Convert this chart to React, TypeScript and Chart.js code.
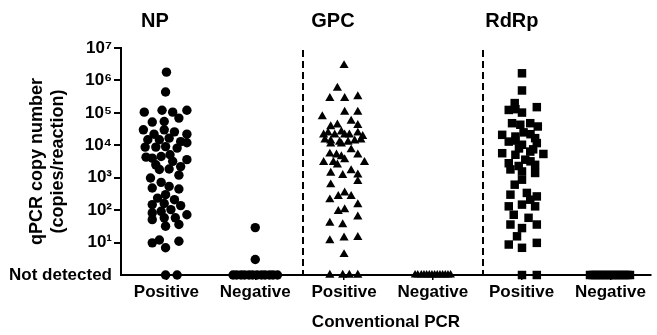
import React, { useEffect, useRef } from 'react';
import { Chart, registerables } from 'chart.js';

Chart.register(...registerables);

// ---- data ----
const categories = ['Positive', 'Negative', 'Positive', 'Negative', 'Positive', 'Negative'];
const groupTitles = ['NP', 'GPC', 'RdRp'];
const groupTitleCats = [-0.13, 1.875, 3.89];
const separatorCats = [1.54, 3.56];
const yTickValues = [1, 10, 100, 1e3, 1e4, 1e5, 1e6, 1e7];
const yTickLabels = ['Not detected', '10¹', '10²', '10³', '10⁴', '10⁵', '10⁶', '10⁷'];
const NOT_DETECTED = 1;

// NP – Positive (circles)
const npPosValues = [
  1.8e6, 4.4e5, 1.05e5, 1.2e5, 1.05e5, 1.2e5, 5.2e4, 5.4e4, 6.9e4, 3.0e4,
  2.2e4, 3.0e4, 2.6e4, 2.2e4, 1.48e4, 1.48e4, 1.66e4, 1.3e4, 1.2e4, 8.8e3,
  8.8e3, 9.1e3, 8.2e3, 4.3e3, 4.0e3, 4.5e3, 5.1e3, 3.6e3, 2.5e3, 3.2e3,
  2.2e3, 1.8e3, 1.85e3, 980, 1.2e3, 720, 480, 540, 450, 235,
  300, 210, 148, 160, 138, 82, 92, 104, 72, 51,
  58, 58, 32, 36, 9.8, 12, 6.9, 11, NOT_DETECTED, NOT_DETECTED,
];
const npPosJitter = [
  0.0, -0.01, -0.25, -0.05, 0.07, 0.23, -0.16, -0.025, 0.14, -0.26,
  -0.14, -0.025, 0.09, 0.23, -0.21, -0.08, 0.03, 0.16, 0.23, -0.24,
  -0.12, -0.01, 0.12, -0.23, -0.16, -0.06, 0.04, 0.23, -0.12, 0.07,
  0.16, -0.08, 0.03, -0.18, 0.14, -0.06, -0.16, 0.03, 0.14, -0.1,
  -0.01, 0.09, -0.16, -0.025, 0.16, -0.16, -0.06, 0.05, 0.23, -0.16,
  -0.025, 0.1, -0.01, 0.14, -0.16, -0.08, -0.01, 0.14, -0.01, 0.12,
];

// NP – Negative (circles)
const npNegValues = [
  29, 3, NOT_DETECTED, NOT_DETECTED, NOT_DETECTED, NOT_DETECTED, NOT_DETECTED, NOT_DETECTED,
  NOT_DETECTED, NOT_DETECTED, NOT_DETECTED, NOT_DETECTED, NOT_DETECTED, NOT_DETECTED,
];
const npNegJitter = [
  0.0, 0.0, -0.25, -0.21, -0.16, -0.12, -0.07, -0.03, 0.02, 0.07, 0.11, 0.16, 0.2, 0.25,
];

// GPC – Positive (triangles)
const gpcPosValues = [
  2.9e6, 5.8e5, 2.8e5, 2.8e5, 3.2e5, 1.05e5, 1.05e5, 7.7e4, 5.6e4, 3.8e4,
  4.3e4, 4.1e4, 2.1e4, 2.4e4, 2.1e4, 2.6e4, 2.1e4, 2.1e4, 2.4e4, 1.9e4,
  1.48e4, 1.38e4, 1.26e4, 1.26e4, 1.38e4, 1.48e4, 1.1e4, 1.1e4, 7.3e3, 5.4e3,
  5.1e3, 4.5e3, 5.1e3, 3.0e3, 3.0e3, 2.5e3, 3.6e3, 3.0e3, 1.4e3, 1.18e3,
  1.65e3, 1.23e3, 770, 610, 210, 265, 340, 265, 148, 92,
  104, 62, 40, 36, 11.5, 14, 14.5, 4.3, NOT_DETECTED, NOT_DETECTED,
  NOT_DETECTED, NOT_DETECTED,
];
const gpcPosJitter = [
  0.0, -0.075, -0.16, 0.007, 0.155, 0.007, 0.155, -0.245, 0.08, -0.15,
  -0.075, 0.155, -0.23, -0.18, -0.105, -0.03, 0.007, 0.06, 0.155, 0.21,
  -0.215, -0.15, -0.05, 0.045, 0.12, 0.19, -0.15, -0.03, 0.08, -0.16,
  -0.085, -0.03, 0.155, -0.23, -0.12, -0.075, 0.007, 0.23, -0.15, -0.015,
  0.08, 0.155, 0.155, -0.15, -0.16, -0.065, 0.007, 0.08, 0.155, -0.065,
  0.007, 0.155, -0.16, -0.015, -0.16, 0.0, 0.155, 0.0, -0.16, -0.015,
  0.06, 0.155,
];

// GPC – Negative (triangles)
const gpcNegValues = [
  NOT_DETECTED, NOT_DETECTED, NOT_DETECTED, NOT_DETECTED, NOT_DETECTED, NOT_DETECTED, NOT_DETECTED,
  NOT_DETECTED, NOT_DETECTED, NOT_DETECTED, NOT_DETECTED, NOT_DETECTED, NOT_DETECTED, NOT_DETECTED,
];
const gpcNegJitter = [
  -0.2, -0.17, -0.13, -0.1, -0.07, -0.04, -0.01, 0.02, 0.05, 0.08, 0.11, 0.14, 0.17, 0.2,
];

// RdRp – Positive (squares)
const rdrpPosValues = [
  1.66e6, 4.9e5, 2.0e5, 1.23e5, 1.02e5, 1.5e5, 4.8e4, 4.3e4, 4.8e4, 3.8e4,
  2.1e4, 1.86e4, 2.5e4, 1.66e4, 1.3e4, 1.04e4, 1.17e4, 5.7e3, 5.1e3, 6.4e3,
  5.4e3, 2.8e3, 2.3e3, 3.6e3, 2.5e3, 1.8e3, 1.4e3, 1.56e3, 610, 870,
  300, 340, 265, 210, 131, 148, 131, 72, 58, 36,
  28, 36, 15.6, 8.7, 6.9, 9.8, NOT_DETECTED, NOT_DETECTED,
  1.4e4, 2.2e4, 8.0e3, 3.2e3, 1.3e5, 7.5e3,
];
const rdrpPosJitter = [
  0.004, 0.004, -0.078, -0.145, 0.004, 0.171, -0.108, -0.015, 0.097, 0.182,
  -0.219, -0.07, 0.022, 0.152, -0.145, 0.004, 0.171, -0.219, -0.07, 0.097,
  0.245, -0.145, -0.033, 0.041, 0.152, -0.126, 0.152, 0.004, -0.078, 0.004,
  -0.126, 0.059, 0.171, 0.097, -0.145, 0.004, 0.152, -0.089, 0.078, -0.126,
  0.004, 0.171, -0.052, -0.145, 0.004, 0.171, 0.004, 0.171,
  -0.07, 0.1, -0.03, 0.1, -0.07, 0.13,
];

// RdRp – Negative (squares)
const rdrpNegValues = [
  NOT_DETECTED, NOT_DETECTED, NOT_DETECTED, NOT_DETECTED, NOT_DETECTED, NOT_DETECTED, NOT_DETECTED, NOT_DETECTED,
  NOT_DETECTED, NOT_DETECTED, NOT_DETECTED, NOT_DETECTED, NOT_DETECTED, NOT_DETECTED, NOT_DETECTED, NOT_DETECTED,
];
const rdrpNegJitter = [
  -0.23, -0.2, -0.17, -0.14, -0.11, -0.08, -0.05, -0.02, 0.01, 0.04, 0.07, 0.1, 0.13, 0.16, 0.19, 0.22,
];

const FONT = "'Liberation Sans', Arial, Helvetica, sans-serif";

function toPoints(cat: number, values: number[], jitter: number[]) {
  return values.map((v, i) => ({ x: cat + jitter[i], y: v }));
}

const decorPlugin = {
  id: 'decor',
  afterDatasetsDraw(chart: any) {
    const { ctx, scales } = chart;
    const xs = scales.x;
    const ys = scales.y;
    ctx.save();
    ctx.strokeStyle = '#000';
    ctx.lineWidth = 2;
    ctx.setLineDash([7, 4]);
    separatorCats.forEach((c) => {
      const px = Math.round(xs.getPixelForValue(c));
      ctx.beginPath();
      ctx.moveTo(px, ys.getPixelForValue(1e7) + 2);
      ctx.lineTo(px, ys.getPixelForValue(1));
      ctx.stroke();
    });
    ctx.setLineDash([]);
    ctx.fillStyle = '#000';
    ctx.font = `bold 20px ${FONT}`;
    ctx.textAlign = 'center';
    ctx.textBaseline = 'middle';
    groupTitles.forEach((t, i) => {
      ctx.fillText(t, xs.getPixelForValue(groupTitleCats[i]), 21);
    });
    ctx.restore();
  },
};

export default function App() {
  const ref = useRef<HTMLCanvasElement>(null);
  useEffect(() => {
    document.body.style.margin = '0';
    const base = { borderWidth: 0, backgroundColor: '#000', borderColor: '#000', clip: false as any };
    const chart = new Chart(ref.current as HTMLCanvasElement, {
      type: 'scatter',
      data: {
        datasets: [
          { ...base, label: 'NP Positive', data: toPoints(0, npPosValues, npPosJitter), pointStyle: 'circle', pointRadius: 4.7 },
          { ...base, label: 'NP Negative', data: toPoints(1, npNegValues, npNegJitter), pointStyle: 'circle', pointRadius: 4.7 },
          { ...base, label: 'GPC Positive', data: toPoints(2, gpcPosValues, gpcPosJitter), pointStyle: 'triangle', pointRadius: 5.3 },
          { ...base, label: 'GPC Negative', data: toPoints(3, gpcNegValues, gpcNegJitter), pointStyle: 'triangle', pointRadius: 5 },
          { ...base, label: 'RdRp Positive', data: toPoints(4, rdrpPosValues, rdrpPosJitter), pointStyle: 'rect', pointRadius: 6 },
          { ...base, label: 'RdRp Negative', data: toPoints(5, rdrpNegValues, rdrpNegJitter), pointStyle: 'rect', pointRadius: 6 },
        ] as any,
      },
      options: {
        animation: false,
        responsive: false,
        layout: { padding: { top: 48, right: 0, bottom: 0, left: 0 } },
        plugins: { legend: { display: false }, tooltip: { enabled: false } },
        scales: {
          x: {
            type: 'linear',
            min: -0.512,
            max: 5.457,
            afterBuildTicks: (s: any) => {
              s.ticks = categories.map((_, i) => ({ value: i }));
            },
            afterFit: (s: any) => {
              s.height = 60;
            },
            ticks: {
              color: '#000',
              font: { family: FONT, size: 17, weight: 'bold' },
              padding: 2,
              maxRotation: 0,
              autoSkip: false,
              callback: (v: any) => categories[Number(v)] ?? '',
            },
            grid: { drawOnChartArea: false, drawTicks: true, tickLength: 5, color: '#000', lineWidth: 1.5 },
            border: { display: true, color: '#000', width: 2 },
            title: {
              display: true,
              text: 'Conventional PCR',
              color: '#000',
              font: { family: FONT, size: 17, weight: 'bold' },
              padding: { top: 0, bottom: 2 },
            },
          },
          y: {
            type: 'logarithmic',
            min: 1,
            max: 1e7,
            afterBuildTicks: (s: any) => {
              s.ticks = yTickValues.map((v) => ({ value: v, major: true }));
            },
            afterFit: (s: any) => {
              s.width = 121;
            },
            ticks: {
              color: '#000',
              font: { family: FONT, size: 17, weight: 'bold' },
              padding: 2,
              autoSkip: false,
              callback: (v: any) => {
                const idx = yTickValues.indexOf(Number(v));
                return idx >= 0 ? yTickLabels[idx] : '';
              },
            },
            grid: {
              drawOnChartArea: false,
              drawTicks: true,
              tickLength: 7,
              lineWidth: 2,
              color: (c: any) => (c.tick && c.tick.value === 1 ? 'rgba(0,0,0,0)' : '#000'),
            },
            border: { display: true, color: '#000', width: 2 },
            title: {
              display: true,
              text: ['qPCR copy number', '(copies/reaction)'],
              color: '#000',
              font: { family: FONT, size: 18, weight: 'bold', lineHeight: 1.2 },
              padding: { top: 26, bottom: 0 },
            },
          },
        },
      } as any,
      plugins: [decorPlugin],
    });
    return () => chart.destroy();
  }, []);
  return (
    <div style={{ width: 657, height: 335, background: '#fff' }}>
      <canvas ref={ref} width={657} height={335} style={{ display: 'block' }} />
    </div>
  );
}
